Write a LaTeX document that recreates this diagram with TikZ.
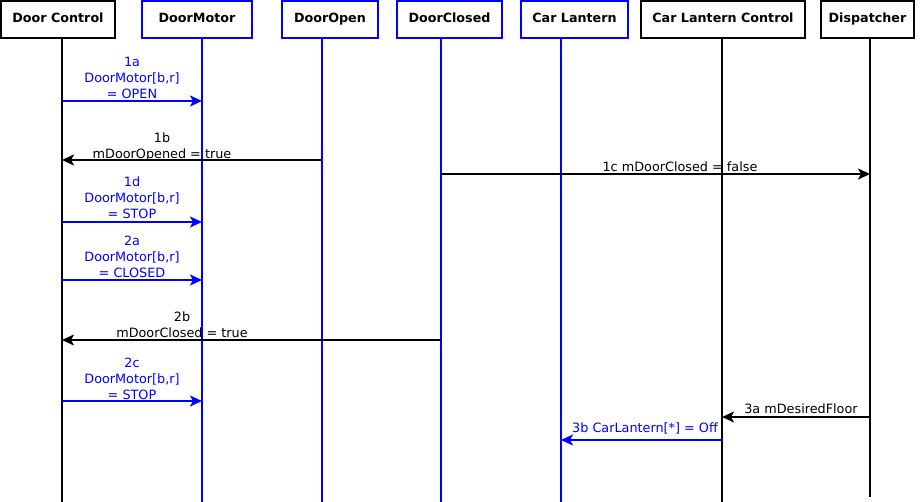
\documentclass[tikz,border=0pt]{standalone}
\usepackage{fontspec}
\setmainfont{DejaVu Sans}
\usetikzlibrary{arrows.meta}
\definecolor{ublue}{RGB}{0,0,255}
\begin{document}
\begin{tikzpicture}[x=1pt,y=-1pt,
  hdr/.style={draw, line width=1.6pt, fill=white, text=black, font=\fontsize{12.7}{15}\selectfont\bfseries, inner sep=0pt, minimum height=37pt, text height=9.3pt, text depth=2.4pt},
  life/.style={line width=1.3pt},
  msg/.style={line width=1.7pt, -{Stealth[length=12pt,width=11pt,inset=3pt]}},
  lbl/.style={font=\fontsize{12.8}{16}\selectfont, align=center, inner sep=0pt, anchor=south},
  ]
\useasboundingbox (0,0) rectangle (923,502);
% lifeline ends
\coordinate (dcT) at (62,38);   \coordinate (dcB) at (62,502);
\coordinate (dmT) at (202,38);  \coordinate (dmB) at (202,502);
\coordinate (doT) at (322,38);  \coordinate (doB) at (322,502);
\coordinate (dkT) at (441,38);  \coordinate (dkB) at (441,502);
\coordinate (clT) at (561,38);  \coordinate (clB) at (561,502);
\coordinate (ccT) at (722,38);  \coordinate (ccB) at (722,502);
\coordinate (dsT) at (870,38);  \coordinate (dsB) at (870,497);
\draw[life] (dcT) -- (dcB);
\draw[life,ublue] (dmT) -- (dmB);
\draw[life,ublue] (doT) -- (doB);
\draw[life,ublue] (dkT) -- (dkB);
\draw[life,ublue] (clT) -- (clB);
\draw[life] (ccT) -- (ccB);
\draw[life] (dsT) -- (dsB);
% headers
\node[hdr, minimum width=114pt] (dc) at (58,19.5) {Door Control};
\node[hdr, draw=ublue, minimum width=110pt] (dm) at (197,19.5) {DoorMotor};
\node[hdr, draw=ublue, minimum width=96pt] (do) at (330,19.5) {DoorOpen};
\node[hdr, draw=ublue, minimum width=105pt] (dk) at (449.5,19.5) {DoorClosed};
\node[hdr, draw=ublue, minimum width=107pt] (cl) at (574.5,19.5) {Car Lantern};
\node[hdr, minimum width=164pt] (cc) at (723,19.5) {Car Lantern Control};
\node[hdr, minimum width=93pt] (ds) at (867.5,19.5) {Dispatcher};
% messages
\draw[msg,ublue] (dcT |- 0,101) -- (dmT |- 0,101);
\node[lbl,text=ublue] (m1a) at (132,99) {1a\\DoorMotor[b,r]\\= OPEN};
\draw[msg] (doT |- 0,160) -- (dcT |- 0,160);
\node[lbl] (m1b) at (162,161.5) {1b\\mDoorOpened = true};
\draw[msg] (dkT |- 0,174) -- (dsT |- 0,174);
\node[lbl] (m1c) at (680,172) {1c mDoorClosed = false};
\draw[msg,ublue] (dcT |- 0,222) -- (dmT |- 0,222);
\node[lbl,text=ublue] (m1d) at (132,219) {1d\\DoorMotor[b,r]\\= STOP};
\draw[msg,ublue] (dcT |- 0,280) -- (dmT |- 0,280);
\node[lbl,text=ublue] (m2a) at (132,278) {2a\\DoorMotor[b,r]\\= CLOSED};
\draw[msg] (dkT |- 0,340) -- (dcT |- 0,340);
\node[lbl] (m2b) at (182,338) {2b\\mDoorClosed = true};
\draw[msg,ublue] (dcT |- 0,401) -- (dmT |- 0,401);
\node[lbl,text=ublue] (m2c) at (132,400) {2c\\DoorMotor[b,r]\\= STOP};
\draw[msg] (dsT |- 0,417) -- (ccT |- 0,417);
\node[lbl] (m3a) at (801,414) {3a mDesiredFloor};
\draw[msg,ublue] (ccT |- 0,440) -- (clT |- 0,440);
\node[lbl,text=ublue] (m3b) at (645,434.5) {3b CarLantern[*] = Off};
\end{tikzpicture}
\end{document}
